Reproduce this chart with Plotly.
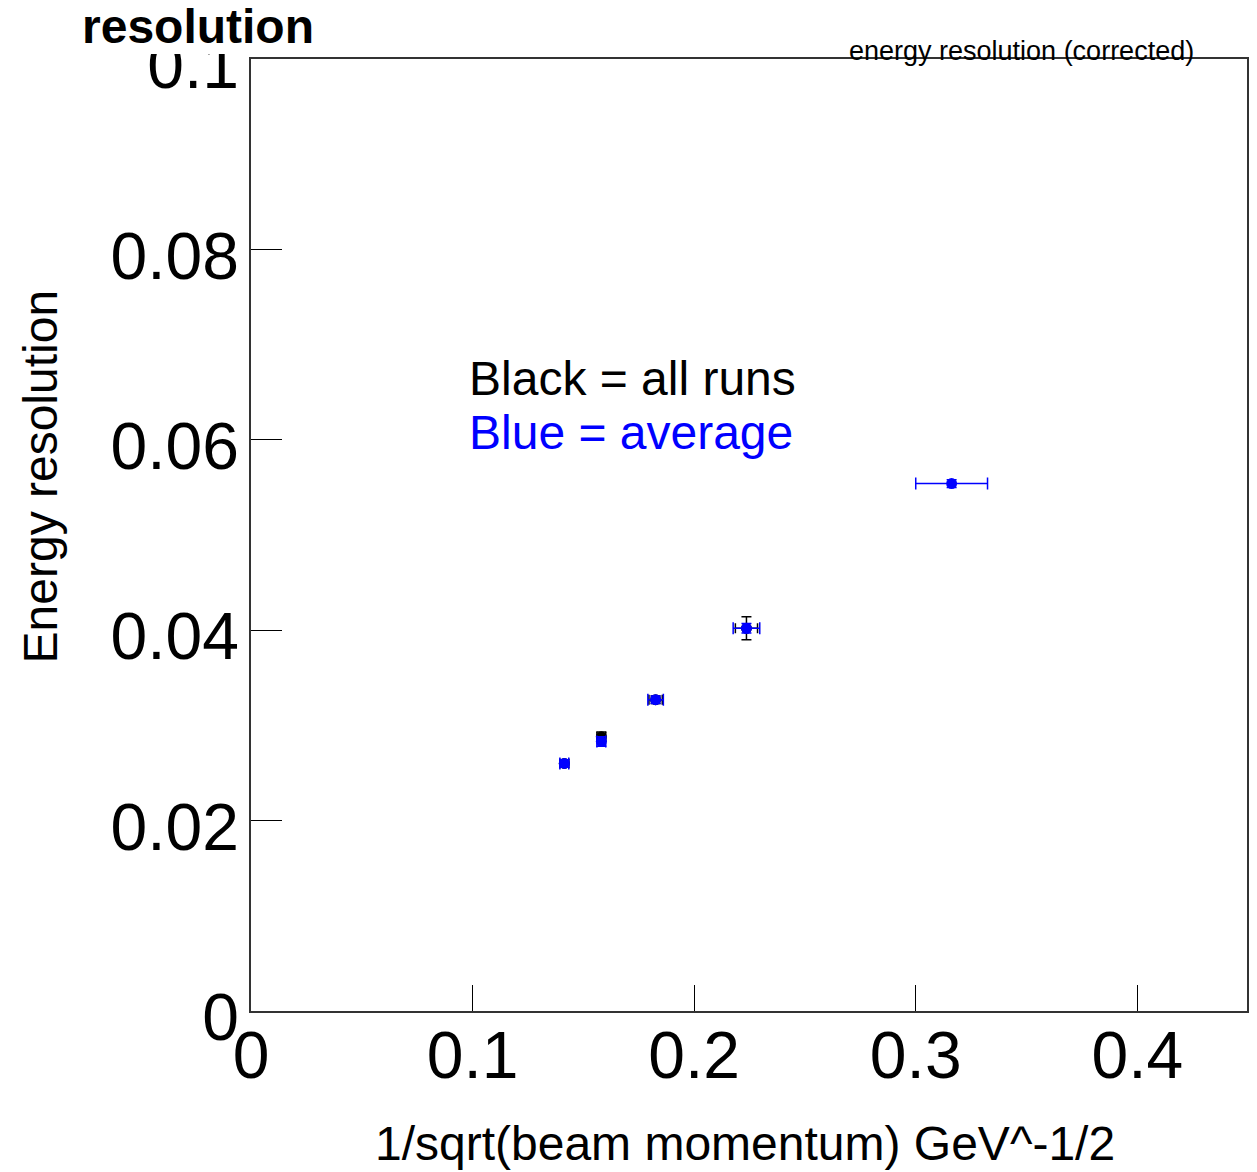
import plotly.graph_objects as go

# ---- data ----
blue_x = [0.1414, 0.1581, 0.1826, 0.2236, 0.3162]
blue_y = [0.0260, 0.0283, 0.0327, 0.0402, 0.0554]
blue_xerr = [0.002, 0.002, 0.0035, 0.006, 0.0162]
blue_yerr = [0.0004, 0.0005, 0.0004, 0.0005, 0.0004]

black_x = [0.1414, 0.1581, 0.1826, 0.2236]
black_y = [0.0260, 0.0288, 0.0327, 0.0402]
black_xerr = [0.002, 0.002, 0.003, 0.005]
black_yerr = [0.0004, 0.0005, 0.0004, 0.0012]

x_ticks = [0, 0.1, 0.2, 0.3, 0.4]
x_ticktext = ["0", "0.1", "0.2", "0.3", "0.4"]
y_ticks = [0, 0.02, 0.04, 0.06, 0.08, 0.1]
y_ticktext = ["0", "0.02", "0.04", "0.06", "0.08", "0.1"]

W, H = 1257, 1172
L, R, T, B = 251, 8, 59, 161
PW, PH = W - L - R, H - T - B


def px(xpix):
    return (xpix - L) / PW


def py(ypix):
    return (H - B - ypix) / PH


FONT = "Liberation Sans, Arial, sans-serif"

fig = go.Figure()
fig.add_trace(go.Scatter(
    x=black_x, y=black_y, mode="markers",
    marker=dict(color="black", size=11, symbol="circle"),
    error_x=dict(type="data", array=black_xerr, color="black", thickness=1.5, width=5),
    error_y=dict(type="data", array=black_yerr, color="black", thickness=1.5, width=5),
    showlegend=False,
))
fig.add_trace(go.Scatter(
    x=blue_x, y=blue_y, mode="markers",
    marker=dict(color="#0000ff", size=11, symbol="circle"),
    error_x=dict(type="data", array=blue_xerr, color="#0000ff", thickness=1.5, width=6),
    error_y=dict(type="data", array=blue_yerr, color="#0000ff", thickness=1.5, width=5),
    showlegend=False,
))

fig.update_layout(
    width=W, height=H,
    margin=dict(l=L, r=R, t=T, b=B, pad=0),
    paper_bgcolor="white", plot_bgcolor="white",
    font=dict(family=FONT, color="black"),
    xaxis=dict(
        range=[0, 0.4495], tickvals=x_ticks, ticktext=x_ticktext,
        ticks="inside", ticklen=26, tickwidth=1, tickcolor="black",
        showline=True, linecolor="#333", linewidth=1.5, mirror=True,
        showgrid=False, zeroline=False,
        tickfont=dict(family=FONT, size=66, color="black"),
        ticklabelstandoff=-14,
    ),
    yaxis=dict(
        range=[0, 0.1], tickvals=y_ticks, ticktext=y_ticktext,
        ticks="inside", ticklen=31, tickwidth=1, tickcolor="black",
        showline=True, linecolor="#333", linewidth=1.5, mirror=True,
        showgrid=False, zeroline=False,
        tickfont=dict(family=FONT, size=66, color="black"),
        ticklabelstandoff=-3, ticklabelshift=6,
    ),
)

# white title box covering top of the "0.1" label (as in the reference)
fig.add_shape(type="rect", xref="paper", yref="paper",
              x0=px(60), x1=px(340), y0=py(54), y1=py(0),
              fillcolor="white", line=dict(width=0), layer="above")

fig.add_annotation(text="<b>resolution</b>", xref="paper", yref="paper",
                   x=px(80), y=py(27), xanchor="left", yanchor="middle",
                   showarrow=False, font=dict(family=FONT, size=48, color="black"))
fig.add_annotation(text="energy resolution (corrected)", xref="paper", yref="paper",
                   x=px(1023), y=py(51), xanchor="center", yanchor="middle",
                   showarrow=False, font=dict(family=FONT, size=27, color="black"))
fig.add_annotation(text="Black = all runs", xref="paper", yref="paper",
                   x=px(467), y=py(378), xanchor="left", yanchor="middle",
                   showarrow=False, font=dict(family=FONT, size=48, color="black"))
fig.add_annotation(text="Blue = average", xref="paper", yref="paper",
                   x=px(467), y=py(432), xanchor="left", yanchor="middle",
                   showarrow=False, font=dict(family=FONT, size=48, color="#0000ff"))
fig.add_annotation(text="Energy resolution", xref="paper", yref="paper",
                   x=px(40), y=py(476), xanchor="center", yanchor="middle",
                   textangle=-90,
                   showarrow=False, font=dict(family=FONT, size=48, color="black"))
fig.add_annotation(text="1/sqrt(beam momentum) GeV^-1/2", xref="paper", yref="paper",
                   x=px(746), y=py(1143), xanchor="center", yanchor="middle",
                   showarrow=False, font=dict(family=FONT, size=48, color="black"))

fig.write_html("out.html")
